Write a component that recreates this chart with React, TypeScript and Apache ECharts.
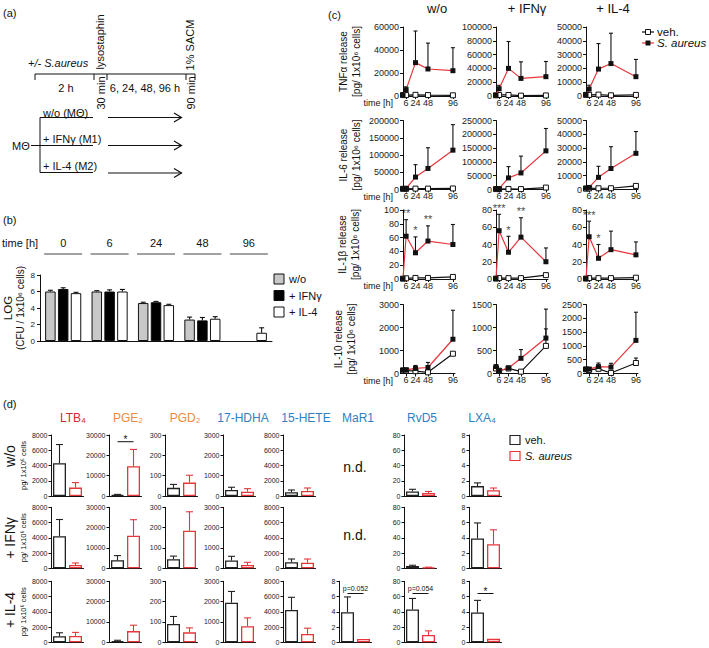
import React, { useEffect, useRef } from 'react';
import * as echarts from 'echarts';

const FONT = '"Liberation Sans", Arial, Helvetica, sans-serif';
const RED = '#e8353b';
const INK = '#111';

// ---------- Panel (b): bacterial load ----------
const B_TIMES = ['0', '6', '24', '48', '96'];
const B_NAMES = ['w/o', '+ IFNγ', '+ IL-4'];
const B_WO = [6.0, 6.0, 4.6, 2.6, null];
const B_WO_ERR = [6.15, 6.1, 4.7, 2.9, null];
const B_IFN = [6.3, 6.0, 4.7, 2.5, null];
const B_IFN_ERR = [6.45, 6.2, 4.8, 2.85, null];
const B_IL4 = [5.8, 6.0, 4.35, 2.7, 1.0];
const B_IL4_ERR = [5.9, 6.25, 4.45, 2.95, 1.6];

// ---------- Panel (c): cytokine release ----------
const C_TIMES = [0, 6, 24, 48, 96];
const C_TICKS = [6, 24, 48, 96];
const C_CONDS = ['w/o', '+ IFNγ', '+ IL-4'];
const C_CYTO = ['TNFα release', 'IL-6 release', 'IL-1β release', 'IL-10 release'];
const C_MAX = [[60000, 100000, 50000], [200000, 250000, 50000], [100, 80, 80], [3000, 1500, 2500]];
const C_INT = [[20000, 20000, 10000], [50000, 50000, 10000], [20, 20, 20], [1000, 500, 500]];

const TNF_SA = [[1000, 5500, 29000, 23500, 22000], [1000, 10500, 40000, 25500, 28000], [1000, 5000, 19500, 23500, 14000]];
const TNF_SA_ERR = [[null, 8000, 56500, 46000, 42000], [null, 15500, 79000, 49500, 50000], [null, 7800, 38000, 45500, 26500]];
const TNF_VEH = [[800, 800, 1000, 800, 600], [1000, 1500, 1500, 500, 800], [800, 800, 1000, 500, 800]];
const TNF_VEH_ERR = [[null, null, null, null, null], [null, null, null, null, null], [null, null, null, null, null]];

const IL6_SA = [[2000, 3000, 36000, 61000, 114000], [2000, 3000, 42000, 60000, 140000], [1000, 1500, 8800, 15200, 26200]];
const IL6_SA_ERR = [[null, null, 72000, 121000, 188000], [null, null, 83000, 121000, 221000], [null, null, 16800, 31000, 42000]];
const IL6_VEH = [[2000, 2000, 2500, 2500, 3000], [1500, 1500, 2000, 1500, 7000], [600, 800, 900, 900, 2600]];
const IL6_VEH_ERR = [[null, null, null, null, null], [null, null, null, null, null], [null, null, null, null, null]];

const IL1B_SA = [[0.5, 62, 38, 55, 50], [0.5, 56, 31, 48.5, 20], [0.5, 49, 24, 34, 28]];
const IL1B_SA_ERR = [[null, 86, 61, 77, 79], [null, 75, 49.5, 71, 36], [null, 67, 40, 55.5, 43]];
const IL1B_VEH = [[0.5, 1, 1.5, 1.5, 3], [0.5, 1, 1, 1, 4.5], [0.5, 1, 1, 1, 1.5]];
const IL1B_VEH_ERR = [[null, null, null, null, null], [null, null, null, null, null], [null, null, null, null, null]];
const IL1B_STARS = [['', '**', '*', '**', ''], ['', '***', '*', '**', ''], ['', '***', '*', '', '']];

const IL10_SA = [[150, 160, 220, 260, 1490], [150, 60, 120, 330, 770], [150, 160, 250, 230, 1200]];
const IL10_SA_ERR = [[null, null, 350, 480, 2750], [180, null, 150, 520, 1400], [null, null, 380, 370, 2220]];
const IL10_VEH = [[130, 130, 100, 50, 860], [110, 60, 110, 40, 600], [150, 130, 170, 20, 380]];
const IL10_VEH_ERR = [[null, null, null, null, null], [null, null, null, null, 970], [null, null, null, null, 560]];

const C_SA = [TNF_SA, IL6_SA, IL1B_SA, IL10_SA];
const C_SA_ERR = [TNF_SA_ERR, IL6_SA_ERR, IL1B_SA_ERR, IL10_SA_ERR];
const C_VEH = [TNF_VEH, IL6_VEH, IL1B_VEH, IL10_VEH];
const C_VEH_ERR = [TNF_VEH_ERR, IL6_VEH_ERR, IL1B_VEH_ERR, IL10_VEH_ERR];

// ---------- Panel (d): lipid mediators ----------
const D_ROWS = ['w/o', '+ IFNγ', '+ IL-4'];
const D_LIPIDS = ['LTB₄', 'PGE₂', 'PGD₂', '17-HDHA', '15-HETE', 'MaR1', 'RvD5', 'LXA₄'];
const D_CATS = ['veh.', 'S. aureus'];
const D_MAX = [8000, 30000, 300, 3000, 8000, 8, 80, 8];
const D_INT = [2000, 10000, 100, 1000, 2000, 2, 20, 2];
const D_VEH = [
  [4300, 500, 40, 300, 500, null, 6, 1.3],
  [4200, 4000, 45, 380, 800, null, 3, 3.9],
  [800, 600, 90, 1950, 4250, 3.95, 43, 3.9],
];
const D_VEH_ERR = [
  [6750, 800, 57, 430, 790, null, 8.8, 1.72],
  [6400, 6250, 60, 590, 1220, null, 4, 5.95],
  [1250, 1000, 127, 2500, 5900, 5.95, 57.5, 5.5],
];
const D_SA = [
  [1100, 14600, 66, 215, 660, null, 4, 0.75],
  [430, 16000, 185, 165, 740, null, 1, 3.15],
  [820, 5500, 49, 790, 1100, 0.43, 9.5, 0.45],
];
const D_SA_ERR = [
  [1760, 22900, 102, 360, 1050, null, 6, 1.05],
  [700, 23900, 278, 295, 1220, null, 1.5, 5.05],
  [1300, 8400, 71, 1200, 1850, null, 15, null],
];
// [row, column, text, value of bracket line]
const D_ANNOT: [number, number, string, number][] = [
  [0, 1, '*', 26700],
  [2, 5, 'p=0.052', 6.4],
  [2, 6, 'p=0.054', 64],
  [2, 7, '*', 6.4],
];

// ---------- helpers ----------
const AXL = { lineStyle: { color: INK, width: 1 } };
const fmt = (v: number) => String(v);

function errorBars(ai: number, data: number[][], colorOf: (x: number) => string, cap: number, dx = 0) {
  return {
    type: 'custom', xAxisIndex: ai, yAxisIndex: ai, silent: true, z: 2, clip: false,
    encode: { x: 0, y: [1, 2] },
    data,
    renderItem: (_p: any, api: any) => {
      const x = api.value(0), y = api.value(1), t = api.value(2);
      const a = api.coord([x, y]);
      const b = api.coord([x, t]);
      const col = colorOf(x);
      const cx = a[0] + dx;
      return {
        type: 'group', children: [
          { type: 'line', shape: { x1: cx, y1: a[1], x2: cx, y2: b[1] }, style: { stroke: col, lineWidth: 1.1 } },
          { type: 'line', shape: { x1: cx - cap / 2, y1: b[1], x2: cx + cap / 2, y2: b[1] }, style: { stroke: col, lineWidth: 1.1 } },
        ],
      };
    },
  };
}

function T(text: string, x: number, y: number, o: any = {}) {
  return {
    type: 'text', x, y, rotation: o.rot || 0, silent: true,
    style: {
      text, x: 0, y: 0, fontSize: o.size || 11, fontFamily: FONT,
      fontStyle: o.italic ? 'italic' : 'normal', fill: o.color || INK,
      align: o.align || 'left', verticalAlign: 'middle',
    },
  };
}
function L(x1: number, y1: number, x2: number, y2: number, color = INK, w = 1) {
  return { type: 'line', silent: true, shape: { x1, y1, x2, y2 }, style: { stroke: color, lineWidth: w } };
}
function R(x: number, y: number, w: number, h: number, fill: string, stroke: string, lw = 1) {
  return { type: 'rect', silent: true, shape: { x, y, width: w, height: h }, style: { fill, stroke, lineWidth: lw } };
}

function buildOption() {
  const grid: any[] = [], xAxis: any[] = [], yAxis: any[] = [], series: any[] = [], g: any[] = [];

  // ===== (b) =====
  grid.push({ left: 40, top: 275, width: 232, height: 66 });
  xAxis.push({ gridIndex: 0, type: 'category', data: B_TIMES, axisLine: AXL, axisTick: { show: false }, axisLabel: { show: false }, splitLine: { show: false } });
  yAxis.push({
    gridIndex: 0, type: 'value', min: 0, max: 8, interval: 2,
    axisLine: { show: true, ...AXL }, axisTick: { show: true, length: 3, lineStyle: { color: INK } },
    axisLabel: { fontSize: 8, margin: 5, color: '#222', formatter: fmt }, splitLine: { show: false },
    name: '{a|LOG}\n{b|(CFU / 1x10⁶ cells)}', nameLocation: 'middle', nameRotate: 90, nameGap: 14,
    nameTextStyle: { rich: { a: { fontSize: 11.5, lineHeight: 12, fontFamily: FONT, color: INK }, b: { fontSize: 10, lineHeight: 12, fontFamily: FONT, color: INK } } },
  });
  const BW = 10.5, BG = 0.22;
  const bVals = [B_WO, B_IFN, B_IL4];
  const bErrs = [B_WO_ERR, B_IFN_ERR, B_IL4_ERR];
  const bColors = ['#c8c8c8', '#000000', '#ffffff'];
  bVals.forEach((vals, k) => {
    series.push({
      type: 'bar', name: B_NAMES[k], xAxisIndex: 0, yAxisIndex: 0, barWidth: BW, barGap: BG * 100 + '%', z: 3,
      data: vals.map((v) => (v == null ? '-' : v)),
      itemStyle: { color: bColors[k], borderColor: INK, borderWidth: 1 },
    });
    const d = vals.map((v, i) => (v == null || bErrs[k][i] == null ? null : [i, v, bErrs[k][i] as number])).filter(Boolean) as number[][];
    series.push(errorBars(0, d, () => INK, 5, (k - 1) * BW * (1 + BG)));
  });
  series.push({
    type: 'custom', xAxisIndex: 0, yAxisIndex: 0, silent: true, clip: false,
    data: B_TIMES.map((_t, i) => [i, 8]),
    renderItem: (p: any, api: any) => {
      const c = api.coord([api.value(0), api.value(1)]);
      return {
        type: 'group', children: [
          { type: 'text', style: { text: B_TIMES[p.dataIndex], x: c[0], y: c[1] - 32, align: 'center', verticalAlign: 'middle', fontSize: 11, fontFamily: FONT, fill: INK } },
          { type: 'line', shape: { x1: c[0] - 19, y1: c[1] - 21, x2: c[0] + 19, y2: c[1] - 21 }, style: { stroke: '#444', lineWidth: 1 } },
        ],
      };
    },
  });

  // ===== (c) =====
  const C_LEFT = [403, 496, 586], C_TOP = [27, 120.5, 210, 304.5], C_W = 52, C_H = 69;
  const nameGaps = [40, 40, 41, 45];
  for (let r = 0; r < 4; r++) {
    for (let c = 0; c < 3; c++) {
      const gi = grid.length;
      grid.push({ left: C_LEFT[c], top: C_TOP[r], width: C_W, height: C_H });
      xAxis.push({
        gridIndex: gi, type: 'value', min: 0, max: 100,
        axisLine: AXL, axisTick: { show: true, length: 3, customValues: C_TICKS, lineStyle: { color: INK } },
        axisLabel: { customValues: C_TICKS, fontSize: 9, margin: 2, color: '#222', formatter: fmt },
        splitLine: { show: false },
      });
      const ya: any = {
        gridIndex: gi, type: 'value', min: 0, max: C_MAX[r][c], interval: C_INT[r][c],
        axisLine: { show: true, ...AXL }, axisTick: { show: true, length: 3, lineStyle: { color: INK } },
        axisLabel: { fontSize: 9, margin: 4, color: '#222', formatter: fmt }, splitLine: { show: false },
      };
      if (c === 0) {
        Object.assign(ya, {
          name: C_CYTO[r] + '\n[pg/ 1x10⁶ cells]', nameLocation: 'middle', nameRotate: 90, nameGap: nameGaps[r],
          nameTextStyle: { fontSize: 10, lineHeight: 13, fontFamily: FONT, color: INK },
        });
      }
      yAxis.push(ya);
      const veh = C_VEH[r][c], sa = C_SA[r][c];
      series.push({
        type: 'line', name: 'veh.', xAxisIndex: gi, yAxisIndex: gi, z: 3,
        data: C_TIMES.map((t, i) => [t, veh[i]]),
        symbol: 'rect', symbolSize: 5, showSymbol: true,
        lineStyle: { color: INK, width: 1.2 }, itemStyle: { color: '#ffffff', borderColor: INK, borderWidth: 1 },
      });
      series.push({
        type: 'line', name: 'S. aureus', xAxisIndex: gi, yAxisIndex: gi, z: 4,
        data: C_TIMES.map((t, i) => [t, sa[i]]),
        symbol: 'rect', symbolSize: 5, showSymbol: true,
        lineStyle: { color: RED, width: 1.2 }, itemStyle: { color: INK, borderColor: INK, borderWidth: 0 },
      });
      const es = C_SA_ERR[r][c], ev = C_VEH_ERR[r][c];
      const dSa = C_TIMES.map((t, i) => (es[i] == null ? null : [t, sa[i], es[i] as number])).filter(Boolean) as number[][];
      const dVeh = C_TIMES.map((t, i) => (ev[i] == null ? null : [t, veh[i], ev[i] as number])).filter(Boolean) as number[][];
      if (dSa.length) series.push(errorBars(gi, dSa, () => INK, 4));
      if (dVeh.length) series.push(errorBars(gi, dVeh, () => INK, 4));
      if (r === 2) {
        const stars = IL1B_STARS[c];
        const idx = C_TIMES.map((_t, i) => i).filter((i) => stars[i]);
        series.push({
          type: 'scatter', name: 'significance', xAxisIndex: gi, yAxisIndex: gi, silent: true, z: 5,
          symbol: 'circle', symbolSize: 2, itemStyle: { color: 'rgba(255,255,255,0)' },
          labelLayout: { hideOverlap: false },
          data: idx.map((i) => [C_TIMES[i], (es[i] ?? sa[i]) as number]),
          label: {
            show: true, position: 'top', distance: 0, color: INK, fontSize: 11, fontFamily: FONT,
            formatter: (p: any) => stars[idx[p.dataIndex]],
          },
        });
      }
      if (c === 0) g.push(T('time [h]', C_LEFT[0] - 10, C_TOP[r] + C_H + 7, { size: 9, align: 'right' }));
    }
  }

  // ===== (d) =====
  const D_LEFT = [51, 109, 165, 223, 283, 339, 404, 469], D_TOP = [435, 507.3, 581.3], D_W = 32, D_H = 61;
  for (let r = 0; r < 3; r++) {
    for (let k = 0; k < 8; k++) {
      if (D_VEH[r][k] == null) continue;
      const gi = grid.length;
      grid.push({ left: D_LEFT[k] + 0.5, top: D_TOP[r], width: D_W, height: D_H });
      xAxis.push({ gridIndex: gi, type: 'category', data: D_CATS, axisLine: AXL, axisTick: { show: false }, axisLabel: { show: false }, splitLine: { show: false } });
      const ya: any = {
        gridIndex: gi, type: 'value', min: 0, max: D_MAX[k], interval: D_INT[k],
        axisLine: { show: true, ...AXL }, axisTick: { show: true, length: 3, lineStyle: { color: INK } },
        axisLabel: { fontSize: 7, margin: 4, color: '#222', formatter: fmt }, splitLine: { show: false },
      };
      if (k === 0) {
        Object.assign(ya, {
          name: 'pg/ 1x10⁶ cells', nameLocation: 'middle', nameRotate: 90, nameGap: 21,
          nameTextStyle: { fontSize: 7.5, lineHeight: 9, fontFamily: FONT, color: INK },
        });
      }
      yAxis.push(ya);
      const v = D_VEH[r][k] as number, s = D_SA[r][k] as number;
      series.push({
        type: 'bar', name: 'veh.', xAxisIndex: gi, yAxisIndex: gi, barWidth: 13, barGap: '-100%', z: 3,
        data: [v, '-'], itemStyle: { color: '#ffffff', borderColor: '#222', borderWidth: 1.3 },
      });
      series.push({
        type: 'bar', name: 'S. aureus', xAxisIndex: gi, yAxisIndex: gi, barWidth: 13, barGap: '-100%', z: 3,
        data: ['-', s], itemStyle: { color: '#ffffff', borderColor: RED, borderWidth: 1.3 },
      });
      const ed: number[][] = [];
      if (D_VEH_ERR[r][k] != null) ed.push([0, v, D_VEH_ERR[r][k] as number]);
      if (D_SA_ERR[r][k] != null) ed.push([1, s, D_SA_ERR[r][k] as number]);
      if (ed.length) series.push(errorBars(gi, ed, (x) => (x === 0 ? '#222' : RED), 7));
      const ann = D_ANNOT.find((a) => a[0] === r && a[1] === k);
      if (ann) {
        const txt = ann[2];
        const small = txt.length > 2;
        series.push({
          type: 'custom', xAxisIndex: gi, yAxisIndex: gi, silent: true, clip: false, z: 5,
          data: [[0, ann[3]]],
          renderItem: (_p: any, api: any) => {
            const a = api.coord([0, api.value(1)]);
            const b = api.coord([1, api.value(1)]);
            return {
              type: 'group', children: [
                { type: 'line', shape: { x1: a[0], y1: a[1], x2: b[0], y2: b[1] }, style: { stroke: INK, lineWidth: 1 } },
                { type: 'text', style: { text: txt, x: (a[0] + b[0]) / 2, y: a[1] - (small ? 5 : 2.5), align: 'center', verticalAlign: 'middle', fontSize: small ? 7 : 10, fontFamily: FONT, fill: INK } },
              ],
            };
          },
        });
      }
    }
  }

  // ===== graphic: panel (a), labels, legends =====
  // (a)
  g.push(T('(a)', 3, 13, { size: 11 }));
  g.push(T('+/- S.aureus', 28, 62.5, { size: 11, italic: true }));
  g.push(L(35, 74, 195, 74));
  [35, 94, 107, 186, 195].forEach((x) => g.push(L(x, 74, x, 80)));
  g.push(T('lysostaphin', 100, 42, { size: 11, rot: Math.PI / 2, align: 'center' }));
  g.push(T('1% SACM', 190, 45, { size: 11, rot: Math.PI / 2, align: 'center' }));
  g.push(T('30 min', 101, 93, { size: 11, rot: Math.PI / 2, align: 'center' }));
  g.push(T('90 min', 190.5, 93, { size: 11, rot: Math.PI / 2, align: 'center' }));
  g.push(T('2 h', 66, 88, { size: 11, align: 'center' }));
  g.push(T('6, 24, 48, 96 h', 145, 88, { size: 11, align: 'center' }));
  g.push(T('w/o (MΘ)', 43, 112.5, { size: 11 }));
  g.push(T('+ IFNγ (M1)', 43, 139, { size: 11 }));
  g.push(T('+ IL-4 (M2)', 43, 165.5, { size: 11 }));
  g.push(L(40, 117.5, 93, 117.5));
  g.push(L(31, 145.5, 93, 145.5));
  g.push(L(40, 172.5, 93, 172.5));
  g.push(L(40, 117.5, 40, 172.5));
  g.push(T('MΘ', 12, 146, { size: 11 }));
  [117.5, 145.5, 173].forEach((y) => {
    g.push(L(108, y, 181.5, y, INK, 1.2));
    g.push({ type: 'polyline', silent: true, shape: { points: [[174, y - 4.5], [181.5, y], [174, y + 4.5]] }, style: { stroke: INK, lineWidth: 1.2, fill: 'none' } });
  });

  // (b)
  g.push(T('(b)', 3, 220, { size: 11 }));
  g.push(T('time [h]', 2, 243, { size: 11 }));
  const bLegY = [279, 295.5, 312];
  B_NAMES.forEach((n, k) => {
    g.push(R(274, bLegY[k] - 5, 10, 10, bColors[k], INK, 1));
    g.push(T(n, 289, bLegY[k], { size: 11 }));
  });

  // (c)
  g.push(T('(c)', 328, 15, { size: 11 }));
  const cHeadX = [437, 527, 613];
  C_CONDS.forEach((n, c) => g.push(T(n, cHeadX[c], 8, { size: 13, align: 'center' })));
  g.push(L(642, 32, 654, 32, INK, 1.2));
  g.push(R(645.5, 29.5, 5, 5, '#ffffff', INK, 1));
  g.push(T('veh.', 657, 32, { size: 11.5 }));
  g.push(L(642, 43, 654, 43, RED, 1.2));
  g.push(R(645.5, 40.5, 5, 5, INK, INK, 0));
  g.push(T('S. aureus', 657, 43, { size: 11.5, italic: true }));

  // (d)
  g.push(T('(d)', 3, 404, { size: 11 }));
  const dHeadX = [73, 128, 185, 243, 306, 358, 422, 482];
  const dHeadC = ['#d42a32', '#ef8a3c', '#ef8a3c', '#2f7fc1', '#2f7fc1', '#2f7fc1', '#2f7fc1', '#2f7fc1'];
  D_LIPIDS.forEach((n, k) => g.push(T(n, dHeadX[k], 418, { size: 12, align: 'center', color: dHeadC[k] })));
  const dRowY = [456, 538, 610];
  D_ROWS.forEach((n, r) => g.push(T(n, 10, dRowY[r], { size: 14, rot: Math.PI / 2, align: 'center' })));
  g.push(T('n.d.', 355, 467, { size: 14, align: 'center' }));
  g.push(T('n.d.', 355, 535, { size: 14, align: 'center' }));
  g.push(R(510, 435.5, 10, 9, '#ffffff', '#222', 1.2));
  g.push(T('veh.', 525, 440, { size: 11 }));
  g.push(R(510, 451.5, 10, 9, '#ffffff', RED, 1.2));
  g.push(T('S. aureus', 525, 456, { size: 11, italic: true }));

  return {
    animation: false,
    backgroundColor: '#ffffff',
    textStyle: { fontFamily: FONT },
    grid, xAxis, yAxis, series,
    graphic: { elements: g },
  };
}

export default function App() {
  const ref = useRef<HTMLDivElement>(null);
  useEffect(() => {
    if (!ref.current) return;
    const chart = echarts.init(ref.current, undefined, { renderer: 'svg' });
    chart.setOption(buildOption() as any);
    return () => chart.dispose();
  }, []);
  return <div ref={ref} style={{ position: 'fixed', left: 0, top: 0, width: 709, height: 648, background: '#fff' }} />;
}
